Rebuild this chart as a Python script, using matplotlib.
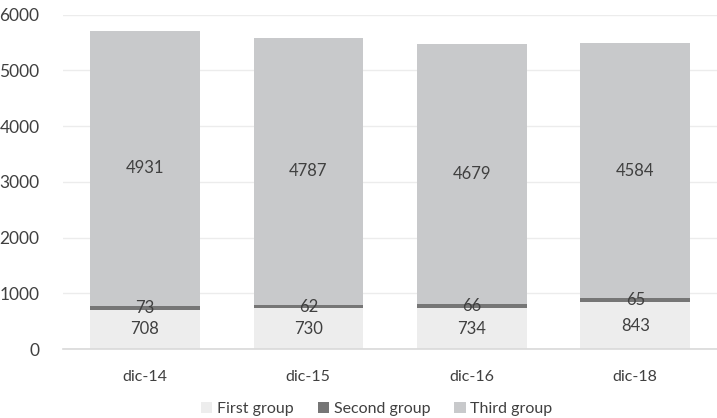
import numpy as np
import matplotlib.pyplot as plt

plt.rcParams['font.family'] = ['Lato', 'DejaVu Sans']

periods = ['dic-14', 'dic-15', 'dic-16', 'dic-18']
first_group = [708, 730, 734, 843]
second_group = [73, 62, 66, 65]
third_group = [4931, 4787, 4679, 4584]

fig = plt.figure(figsize=(7.17, 4.18), dpi=100)
ax = fig.add_axes([0.088, 0.165, 0.912, 0.8])

x = np.arange(len(periods))
w = 0.67
text_col = '#404040'

b1 = ax.bar(x, first_group, w, color='#ededed', label='First group', zorder=2)
b2 = ax.bar(x, second_group, w, bottom=first_group, color='#767676', label='Second group', zorder=2)
bottom3 = np.add(first_group, second_group)
b3 = ax.bar(x, third_group, w, bottom=bottom3, color='#c8c9cb', label='Third group', zorder=2)

for bars in (b1, b2, b3):
    ax.bar_label(bars, label_type='center', fontsize=12, color=text_col)

ax.set_ylim(0, 6000)
ax.set_xlim(-0.5, len(periods) - 0.5)
ax.set_yticks(range(0, 6001, 1000))
ax.set_xticks(x, periods)
ax.yaxis.grid(True, color='#ececec', linewidth=1, zorder=0)
ax.set_axisbelow(True)
for s in ['top', 'right', 'left']:
    ax.spines[s].set_visible(False)
ax.spines['bottom'].set_color('#d9d9d9')
ax.spines['bottom'].set_linewidth(1.2)
ax.tick_params(axis='x', length=0, labelsize=11.5, colors=text_col, pad=15)
ax.tick_params(axis='y', length=0, labelsize=12.5, colors=text_col, pad=17)

ax.legend(loc='upper center', bbox_to_anchor=(0.48, -0.115), ncol=3, frameon=False,
          fontsize=11.5, labelcolor=text_col, handlelength=0.7, handleheight=0.7,
          handletextpad=0.3, columnspacing=1.5)

fig.savefig('out.png', dpi=100)
